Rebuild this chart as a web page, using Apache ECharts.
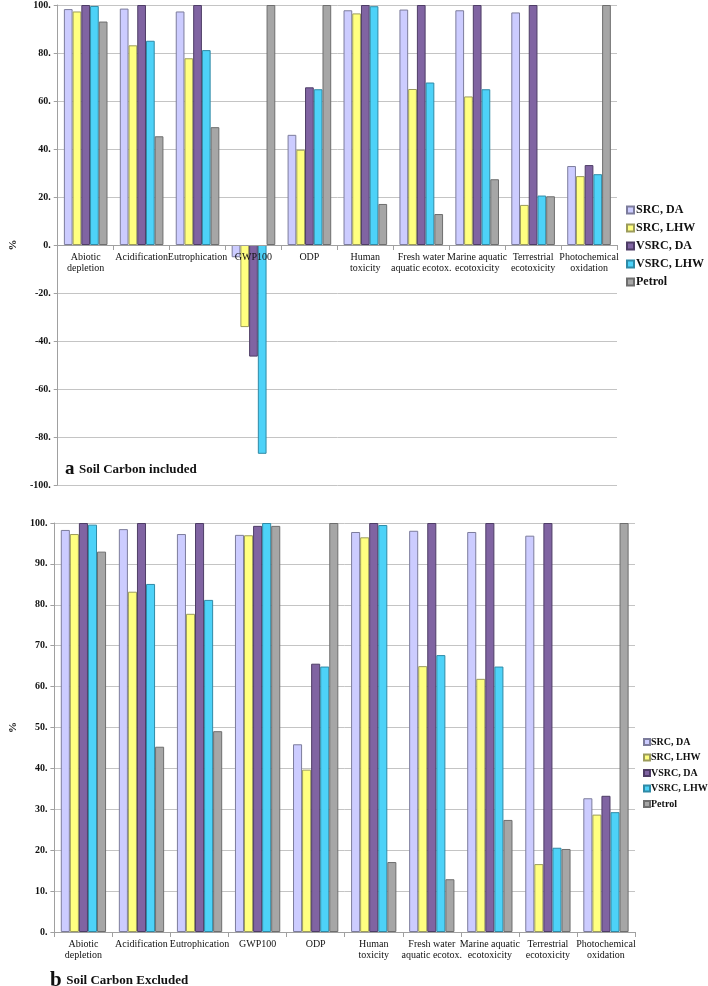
<!DOCTYPE html>
<html>
<head>
<meta charset="utf-8">
<script src="https://cdn.jsdelivr.net/npm/echarts@6/dist/echarts.min.js"></script>
<style>
html,body{margin:0;padding:0;background:#fff;}
#chart{width:708px;height:986px;}
</style>
</head>
<body>
<div id="chart"></div>
<script>
var categories = ['Abiotic\ndepletion', 'Acidification', 'Eutrophication', 'GWP100', 'ODP',
  'Human\ntoxicity', 'Fresh water\naquatic ecotox.', 'Marine aquatic\necotoxicity',
  'Terrestrial\necotoxicity', 'Photochemical\noxidation'];
var seriesNames = ['SRC, DA', 'SRC, LHW', 'VSRC, DA', 'VSRC, LHW', 'Petrol'];

// Panel a: Soil Carbon included
var inclSrcDa   = [98.3, 98.5, 97.3, -5.1, 45.9, 97.8, 98.1, 97.8, 96.9, 32.9];
var inclSrcLhw  = [97.3, 83.2, 77.8, -34.2, 39.7, 96.5, 65.0, 61.9, 16.7, 28.7];
var inclVsrcDa  = [100, 100, 100, -46.5, 65.7, 100, 100, 100, 100, 33.3];
var inclVsrcLhw = [99.6, 85.1, 81.2, -87.0, 64.9, 99.5, 67.7, 64.9, 20.6, 29.5];
var inclPetrol  = [93.1, 45.3, 49.1, 100, 100, 17.1, 12.9, 27.4, 20.3, 100];

// Panel b: Soil Carbon excluded
var exclSrcDa   = [98.3, 98.5, 97.3, 97.1, 45.9, 97.8, 98.1, 97.8, 96.9, 32.7];
var exclSrcLhw  = [97.3, 83.2, 77.8, 97.0, 39.7, 96.5, 65.0, 61.9, 16.6, 28.7];
var exclVsrcDa  = [100, 100, 100, 99.3, 65.6, 100, 100, 100, 100, 33.3];
var exclVsrcLhw = [99.6, 85.1, 81.2, 100, 64.9, 99.5, 67.7, 64.9, 20.6, 29.3];
var exclPetrol  = [93.0, 45.3, 49.1, 99.3, 100, 17.1, 12.9, 27.4, 20.3, 100];

var inclData = [inclSrcDa, inclSrcLhw, inclVsrcDa, inclVsrcLhw, inclPetrol];
var exclData = [exclSrcDa, exclSrcLhw, exclVsrcDa, exclVsrcLhw, exclPetrol];

var fills   = ['#CCCCFF', '#FFFF80', '#8064A2', '#4DD2F8', '#A6A6A6'];
var borders = ['#7C7C9C', '#9C9C5C', '#4E3D66', '#2F8AA6', '#6E6E6E'];

var FONT = '"Liberation Serif", "Times New Roman", serif';

var chart = echarts.init(document.getElementById('chart'), null, {renderer: 'canvas'});

function makeSeries(dataSets, idx) {
  return dataSets.map(function (d, i) {
    return {
      name: seriesNames[i],
      type: 'bar',
      xAxisIndex: idx,
      yAxisIndex: idx,
      data: d,
      barGap: '0%',
      barCategoryGap: '22%',
      itemStyle: {color: fills[i], borderColor: borders[i], borderWidth: 1},
      emphasis: {disabled: true},
      animation: false
    };
  });
}

function xAxisCfg(gridIndex, offset) {
  return {
    type: 'category',
    gridIndex: gridIndex,
    data: categories,
    position: 'bottom',
    offset: offset,
    axisLine: {onZero: false, lineStyle: {color: '#A0A0A0', width: 1}},
    axisTick: {show: true, alignWithLabel: false, length: 5, lineStyle: {color: '#A0A0A0'}},
    axisLabel: {interval: 0, fontFamily: FONT, fontSize: 10, color: '#111', lineHeight: 11, margin: 7},
    splitLine: {show: false},
    z: 5
  };
}

function yAxisCfg(gridIndex, min, max, interval) {
  return {
    type: 'value',
    gridIndex: gridIndex,
    min: min, max: max, interval: interval,
    name: '%',
    nameLocation: 'middle',
    nameGap: 28,
    nameTextStyle: {fontFamily: FONT, fontSize: 11, fontWeight: 'bold', color: '#111'},
    axisLine: {show: true, lineStyle: {color: '#A0A0A0'}},
    axisTick: {show: true, length: 4, lineStyle: {color: '#A0A0A0'}},
    axisLabel: {
      fontFamily: FONT, fontSize: 10, fontWeight: 'bold', color: '#111', margin: 7,
      formatter: function (v) { return v + '.'; }
    },
    splitLine: {show: true, lineStyle: {color: '#C4C4C4', width: 1}}
  };
}

var option = {
  backgroundColor: '#fff',
  animation: false,
  textStyle: {fontFamily: FONT},
  grid: [
    {left: 41, top: 5, width: 576, height: 480},
    {left: 48, top: 523, width: 587, height: 409}
  ],
  xAxis: [xAxisCfg(0, -240), xAxisCfg(1, 0)],
  yAxis: [yAxisCfg(0, -100, 100, 20), yAxisCfg(1, 0, 100, 10)],
  legend: [
    {
      data: seriesNames, orient: 'vertical', left: 626, top: 204, padding: 0,
      itemWidth: 7, itemHeight: 7, itemGap: 6, selectedMode: false, icon: 'rect',
      textStyle: {fontFamily: FONT, fontSize: 12, fontWeight: 'bold', color: '#111', padding: [0, 0, 0, -3]}
    },
    {
      data: seriesNames, orient: 'vertical', left: 643, top: 737, padding: 0,
      itemWidth: 6, itemHeight: 6, itemGap: 5.5, selectedMode: false, icon: 'rect',
      textStyle: {fontFamily: FONT, fontSize: 10, fontWeight: 'bold', color: '#111', padding: [0, 0, 0, -4]}
    }
  ],
  title: [
    {
      text: '{a|a} {t|Soil Carbon included}', left: 60, top: 455,
      textStyle: {rich: {
        a: {fontFamily: FONT, fontSize: 19, fontWeight: 'bold', color: '#111'},
        t: {fontFamily: FONT, fontSize: 13, fontWeight: 'bold', color: '#111'}
      }}
    },
    {
      text: '{a|b} {t|Soil Carbon Excluded}', left: 45, top: 965,
      textStyle: {rich: {
        a: {fontFamily: FONT, fontSize: 21, fontWeight: 'bold', color: '#111'},
        t: {fontFamily: FONT, fontSize: 13, fontWeight: 'bold', color: '#111'}
      }}
    }
  ],
  series: makeSeries(inclData, 0).concat(makeSeries(exclData, 1))
};

chart.setOption(option);
</script>
</body>
</html>
